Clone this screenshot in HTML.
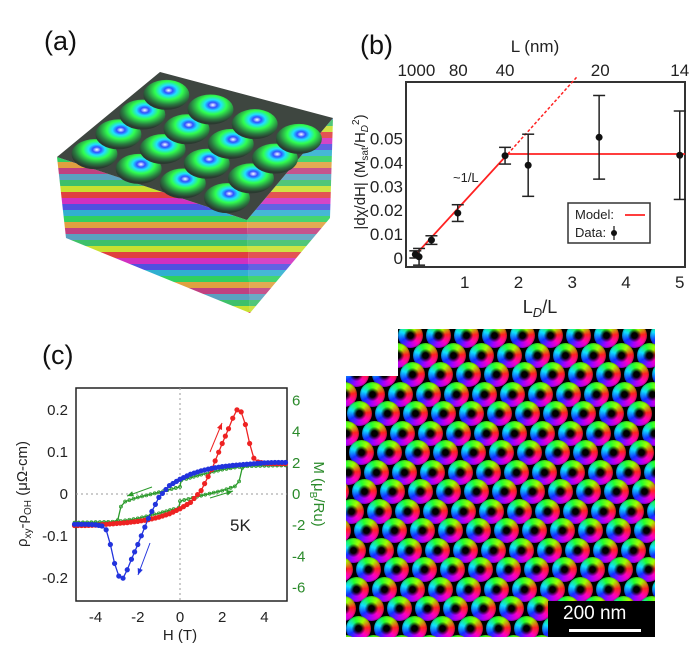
<!DOCTYPE html>
<html><head><meta charset="utf-8">
<style>
html,body{margin:0;padding:0;background:#fff;}
body{width:690px;height:649px;position:relative;overflow:hidden;font-family:"Liberation Sans",sans-serif;}
.lbl{position:absolute;font-size:27px;color:#111;}
#lattice{position:absolute;left:346px;top:329px;width:309px;height:308px;overflow:hidden;background:#000;}
.vx{position:absolute;width:25px;height:25px;border-radius:50%;
background:radial-gradient(circle,#000 0,#000 16%,rgba(0,0,0,0) 38%,rgba(0,0,0,0) 60%,#000 100%),
conic-gradient(from -70deg,#10e0ff,#20ff30,#a0ff00,#ff2020,#ff00c0,#a000ff,#1030ff,#10e0ff);}
</style></head>
<body>
<div class="lbl" style="left:44px;top:26px;">(a)</div>
<div class="lbl" style="left:360px;top:30px;">(b)</div>
<div class="lbl" style="left:42px;top:340px;">(c)</div>
<div class="lbl" style="left:356px;top:338px;">(d)</div>

<svg style="position:absolute;left:0;top:0" width="345" height="330">
<defs>
<pattern id="stripes" patternUnits="userSpaceOnUse" width="400" height="60">
<rect width="400" height="6" y="0" fill="#3ec06a"/><rect width="400" height="6" y="6" fill="#c8e030"/>
<rect width="400" height="6" y="12" fill="#e04040"/><rect width="400" height="6" y="18" fill="#d030c0"/>
<rect width="400" height="6" y="24" fill="#5050e0"/><rect width="400" height="6" y="30" fill="#30b0d0"/>
<rect width="400" height="6" y="36" fill="#30d060"/><rect width="400" height="6" y="42" fill="#e0a040"/>
<rect width="400" height="6" y="48" fill="#c04080"/><rect width="400" height="6" y="54" fill="#5aa0c0"/>
</pattern>
<radialGradient id="bub" cx="55%" cy="35%" r="60%">
<stop offset="0" stop-color="#ffffff"/><stop offset="0.15" stop-color="#3050ff"/><stop offset="0.3" stop-color="#20e0ff"/><stop offset="0.5" stop-color="#30ff50"/><stop offset="0.8" stop-color="#2a7a40"/><stop offset="1" stop-color="#2a3a30"/>
</radialGradient>
</defs>
<polygon points="57,157 247,220 250,313 66,238" fill="url(#stripes)"/>
<polygon points="247,220 333,118 330,218 250,313" fill="url(#stripes)" opacity="0.9"/>
<polygon points="57,157 160,72 333,118 247,220" fill="#3e4640"/>
<g id="bubbles"></g>
</svg>

<svg id="chartB" style="position:absolute;left:340px;top:0" width="350" height="330" font-family="Liberation Sans, sans-serif"></svg>

<svg id="chartC" style="position:absolute;left:0;top:330px" width="340" height="319" font-family="Liberation Sans, sans-serif"></svg>

<div style="position:absolute;left:346px;top:329px;width:52px;height:47px;background:#fff;z-index:2"></div>
<div id="lattice"></div>
<div style="position:absolute;left:548px;top:601px;width:107px;height:36px;background:#000;z-index:3">
<div style="position:absolute;left:15px;top:2px;color:#fff;font-size:19px;">200 nm</div>
<div style="position:absolute;left:21px;top:28px;width:72px;height:3px;background:#fff;"></div>
</div>

<script>
(function(){
  const g=document.getElementById('bubbles');
  const ns='http://www.w3.org/2000/svg';
  for(let i=0;i<4;i++)for(let j=0;j<4;j++){
    const u=(i+0.55)/4.3, v=(j+0.55)/4.3;
    const x=57+(160-57)*v+(247-57)*u, y=157+(72-157)*v+(220-157)*u;
    const e=document.createElementNS(ns,'ellipse');
    e.setAttribute('cx',x);e.setAttribute('cy',y);e.setAttribute('rx',23);e.setAttribute('ry',15);
    e.setAttribute('fill','url(#bub)');
    
    
    g.appendChild(e);
  }
})();

(function(){
  const L=document.getElementById('lattice');
  const a=28, h=19.5;
  for(let r=-1;r<18;r++){
    for(let c=-2;c<13;c++){
      const d=document.createElement('div');
      d.className='vx';
      
      
      const x=c*a+(r%2?a/2:0)+ r*1.2 -4, y=r*h-6;
      d.style.left=x+'px';d.style.top=y+'px';
      L.appendChild(d);
    }
  }
})();
</script>

<script>
const bX=[0.08,0.15,0.38,0.87,1.75,2.18,3.5,5.0];
const bY=[0.0015,0.0005,0.0075,0.0188,0.0428,0.0388,0.0505,0.043];
const bErr=[0.0015,0.0035,0.0018,0.0035,0.0035,0.013,0.0175,0.0185];
const bModelX=[0.05,1.8,5.1];
const bModelY=[0.0005,0.0435,0.0435];
const bDashX=[1.8,3.1];
const bDashY=[0.0435,0.0761];
const bXTicks=[1,2,3,4,5];
const bYTicks=[0,0.01,0.02,0.03,0.04,0.05];
const bTopLabels=["1000","80","40","20","14"];
const bTopPos=[0.1,0.88,1.75,3.52,5.0];
(function(){
  const s=document.getElementById('chartB'), ns='http://www.w3.org/2000/svg', OX=340;
  const X=v=>411+v*53.75-OX, Y=v=>258-v*2390;
  function el(t,at,name,txt){const e=document.createElementNS(ns,t);for(const k in at)e.setAttribute(k,at[k]);
    
    
    if(txt!==undefined)e.textContent=txt;s.appendChild(e);return e;}
  el('rect',{x:406-OX,y:82,width:279,height:185,fill:'none',stroke:'#333','stroke-width':2},'plot-frame');
  bXTicks.forEach(t=>el('text',{x:X(t),y:288,'font-size':17,'text-anchor':'middle',fill:'#222'},'x-tick-label',String(t)));
  bYTicks.forEach(t=>el('text',{x:403-OX,y:Y(t)+6,'font-size':17,'text-anchor':'end',fill:'#222'},'y-tick-label',t===0?'0':t.toFixed(2)));
  bTopLabels.forEach((t,i)=>el('text',{x:X(bTopPos[i]),y:76,'font-size':17,'text-anchor':'middle',fill:'#222'},'top-tick-label',t));
  el('text',{x:535-OX,y:52,'font-size':17,'text-anchor':'middle',fill:'#222'},'top-axis-title','L (nm)');
  const xt=el('text',{x:540-OX,y:313,'font-size':18,'text-anchor':'middle',fill:'#222'},'x-axis-title');
  xt.innerHTML='L<tspan font-style="italic" font-size="13" dy="4">D</tspan><tspan dy="-4">/L</tspan>';
  const yt=el('text',{x:0,y:0,'font-size':15,'text-anchor':'middle',fill:'#222',transform:'translate(25,172) rotate(-90)'},'y-axis-title');
  yt.innerHTML='|dχ/dH| (M<tspan font-size="10" dy="3">sat</tspan><tspan dy="-3">/H</tspan><tspan font-size="10" font-style="italic" dy="3">D</tspan><tspan font-size="10" dy="-9">2</tspan><tspan dy="6">)</tspan>';
  el('polyline',{points:bModelX.map((x,i)=>X(x)+','+Y(bModelY[i])).join(' '),fill:'none',stroke:'#f22','stroke-width':1.8},'model-line');
  el('line',{x1:X(bDashX[0]),y1:Y(bDashY[0]),x2:X(bDashX[1]),y2:Y(bDashY[1]),stroke:'#f22','stroke-width':1.5,'stroke-dasharray':'3,2'},'model-extrapolation');
  bX.forEach((x,i)=>{
    const cx=X(x), y1=Y(bY[i]-bErr[i]), y2=Y(bY[i]+bErr[i]);
    el('line',{x1:cx,y1:y1,x2:cx,y2:y2,stroke:'#222','stroke-width':1.5},'error-bar');
    el('line',{x1:cx-6,y1:y1,x2:cx+6,y2:y1,stroke:'#222','stroke-width':1.5},'error-cap');
    el('line',{x1:cx-6,y1:y2,x2:cx+6,y2:y2,stroke:'#222','stroke-width':1.5},'error-cap');
    el('circle',{cx:cx,cy:Y(bY[i]),r:3.5,fill:'#111'},'data-point');
  });
  el('text',{x:453-OX,y:182,'font-size':13,fill:'#222'},'scaling-annotation','~1/L');
  el('rect',{x:568-OX,y:203,width:82,height:40,fill:'#fff',stroke:'#333','stroke-width':1.5},'legend-box');
  el('text',{x:575-OX,y:219,'font-size':13,fill:'#222'},'legend-model-label','Model:');
  el('line',{x1:625-OX,y1:215,x2:645-OX,y2:215,stroke:'#f22','stroke-width':1.8},'legend-model-line');
  el('text',{x:575-OX,y:237,'font-size':13,fill:'#222'},'legend-data-label','Data:');
  el('line',{x1:614-OX,y1:226,x2:614-OX,y2:240,stroke:'#222','stroke-width':1.3},'legend-data-bar');
  el('circle',{cx:614-OX,cy:233,r:3,fill:'#111'},'legend-data-point');
})();
</script>

<script>
const redH=[-5,-4.5,-4,-3.5,-3,-2.5,-2,-1.5,-1,-0.5,0,0.5,1,1.5,2,2.3,2.5,2.7,2.9,3.1,3.3,3.5,3.7,4,4.5,5];
const redR=[-0.075,-0.075,-0.074,-0.072,-0.07,-0.068,-0.065,-0.061,-0.055,-0.047,-0.035,-0.02,0.008,0.058,0.12,0.155,0.18,0.2,0.195,0.165,0.12,0.085,0.076,0.073,0.072,0.072];
const blueH=redH.map(h=>-h);
const blueR=redR.map(r=>-r);
const grnDownH=[5,4,3.2,3,2,1,0.3,0.05,0,-1,-2,-2.6,-2.8,-2.95,-3.2,-4,-5];
const grnDownR=[0.07,0.07,0.069,0.066,0.058,0.046,0.036,0.032,0.017,0.004,-0.008,-0.018,-0.03,-0.062,-0.066,-0.067,-0.068];
const grnUpH=grnDownH.map(h=>-h);
const grnUpR=grnDownR.map(r=>-r);
const cXTicks=[-4,-2,0,2,4];
const cYTicks=[-0.2,-0.1,0,0.1,0.2];
const cMTicks=[-6,-4,-2,0,2,4,6];
(function(){
  const s=document.getElementById('chartC'), ns='http://www.w3.org/2000/svg', OY=330;
  const X=v=>180+v*21.1, Y=v=>494-v*421-OY, YM=v=>494-v*15.6-OY;
  function el(t,at,name,txt){const e=document.createElementNS(ns,t);for(const k in at)e.setAttribute(k,at[k]);
    
    
    if(txt!==undefined)e.textContent=txt;s.appendChild(e);return e;}
  el('rect',{x:76,y:388-OY,width:211,height:213,fill:'#fff',stroke:'#222','stroke-width':1.5},'plot-frame');
  el('line',{x1:X(0),y1:388-OY,x2:X(0),y2:601-OY,stroke:'#999','stroke-dasharray':'2,3'},'zero-vline');
  el('line',{x1:76,y1:Y(0),x2:287,y2:Y(0),stroke:'#999','stroke-dasharray':'2,3'},'zero-hline');
  cXTicks.forEach(t=>el('text',{x:X(t),y:622-OY,'font-size':15,'text-anchor':'middle',fill:'#222'},'x-tick-label',String(t)));
  cYTicks.forEach(t=>el('text',{x:68,y:Y(t)+5,'font-size':15,'text-anchor':'end',fill:'#222'},'y-tick-label',t===0?'0':String(t)));
  cMTicks.forEach(t=>el('text',{x:292,y:YM(t)+5,'font-size':15,fill:'#2a8a2a'},'right-tick-label',String(t)));
  el('text',{x:180,y:640-OY,'font-size':15,'text-anchor':'middle',fill:'#222'},'x-axis-title','H (T)');
  const yl=el('text',{x:0,y:0,'font-size':15,'text-anchor':'middle',fill:'#222',transform:'translate(27,'+(494-OY)+') rotate(-90)'},'y-axis-title');
  yl.innerHTML='ρ<tspan font-size="10" dy="4">xy</tspan><tspan dy="-4">-ρ</tspan><tspan font-size="10" dy="4">OH</tspan><tspan dy="-4"> (μΩ-cm)</tspan>';
  const yr=el('text',{x:0,y:0,'font-size':15,'text-anchor':'middle',fill:'#2a8a2a',transform:'translate(314,'+(494-OY)+') rotate(90)'},'right-axis-title');
  yr.innerHTML='M (μ<tspan font-size="10" dy="4">B</tspan><tspan dy="-4">/Ru)</tspan>';
  function series(hs,rs,col,name,open){
    el('polyline',{points:hs.map((h,i)=>X(h)+','+Y(rs[i])).join(' '),fill:'none',stroke:col,'stroke-width':1.3},name+'-line');
    for(let k=0;k<hs.length;k++){
      el('circle',{cx:X(hs[k]),cy:Y(rs[k]),r:open?1.5:2.2,fill:open?'none':col,stroke:col,'stroke-width':0.8},name+'-marker');
      if(k<hs.length-1){
        const steps=Math.max(1,Math.round(Math.abs(X(hs[k+1])-X(hs[k]))/4));
        for(let q=1;q<steps;q++){const f=q/steps;
          el('circle',{cx:X(hs[k]+(hs[k+1]-hs[k])*f),cy:Y(rs[k]+(rs[k+1]-rs[k])*f),r:open?1.5:2.2,fill:open?'none':col,stroke:col,'stroke-width':0.8},name+'-marker');}
      }
    }
  }
  series(grnDownH,grnDownR,'#2a9a2a','magnetization-down',true);
  series(grnUpH,grnUpR,'#2a9a2a','magnetization-up',true);
  series(redH,redR,'#ee2222','hall-up-sweep',false);
  series(blueH,blueR,'#2233dd','hall-down-sweep',false);
  function arrow(x1,y1,x2,y2,col,name){
    el('line',{x1:x1,y1:y1-OY,x2:x2,y2:y2-OY,stroke:col,'stroke-width':1},name);
    const a=Math.atan2(y2-y1,x2-x1), L=7;
    const p=[[x2,y2],[x2-L*Math.cos(a-0.4),y2-L*Math.sin(a-0.4)],[x2-L*Math.cos(a+0.4),y2-L*Math.sin(a+0.4)]];
    el('polygon',{points:p.map(q=>q[0]+','+(q[1]-OY)).join(' '),fill:col},name+'-head');
  }
  arrow(210,452,222,423,'#ee2222','red-arrow');
  arrow(150,543,138,575,'#2233dd','blue-arrow');
  arrow(152,487,127,496,'#2a9a2a','green-arrow-left');
  arrow(210,498,233,491,'#2a9a2a','green-arrow-right');
  el('text',{x:230,y:531-OY,'font-size':17,fill:'#222'},'temperature-label','5K');
})();
</script>
</body></html>
